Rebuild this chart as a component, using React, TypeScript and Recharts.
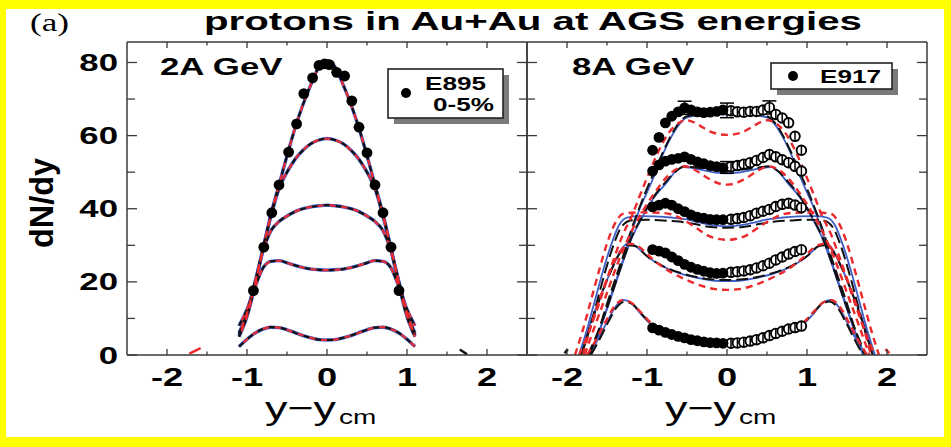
import React from "react";
import {
  ComposedChart,
  Line,
  Scatter,
  XAxis,
  YAxis,
  ReferenceLine,
  ErrorBar,
} from "recharts";

const SANS = "'Liberation Sans', Arial, Helvetica, sans-serif";
const SERIF = "'Liberation Serif', 'Times New Roman', serif";
const WIDE = 1.45; // labels are set wide, like the original figure
const FRAME = "#3a3a3a";
const BLUE = "#3f5fc8";
const RED = "#ea2a2c";
const BLACK = "#111";

const PLOT_W = 400;
const PLOT_H = 313;

// axes (rapidity, dN/dy)
const X_DOMAIN: [number, number] = [-2.5, 2.5];
const Y_DOMAIN: [number, number] = [0, 85.6];
const X_TICKS = [-2, -1.5, -1, -0.5, 0, 0.5, 1, 1.5, 2];
const Y_TICKS = [0, 10, 20, 30, 40, 50, 60, 70, 80];

// ---- 2A GeV ----
// model curves (blue / black / red coincide here), one per set
const GRID_2A = [-1.1, -1.0, -0.9, -0.8, -0.7, -0.6, -0.5, -0.4, -0.3, -0.2, -0.1, 0, 0.1, 0.2, 0.3, 0.4, 0.5, 0.6, 0.7, 0.8, 0.9, 1.0, 1.1];
const CURVE_2A_1 = [5, 10.5, 19, 29, 38.5, 46.5, 54.5, 62, 68.5, 74, 78.8, 80.5, 78.8, 74, 68.5, 62, 54.5, 46.5, 38.5, 29, 19, 10.5, 5];
const CURVE_2A_2 = [5.5, 11, 19.5, 29, 38, 45.5, 50, 53.5, 56, 57.8, 58.8, 59.2, 58.8, 57.8, 56, 53.5, 50, 45.5, 38, 29, 19.5, 11, 5.5];
const CURVE_2A_3 = [6, 11.5, 20, 28.5, 34, 36.5, 38, 39.2, 40, 40.5, 40.8, 41, 40.8, 40.5, 40, 39.2, 38, 36.5, 34, 28.5, 20, 11.5, 6];
const CURVE_2A_4 = [8, 12.5, 18.5, 23.8, 25.6, 25.8, 25.2, 24.5, 23.9, 23.5, 23.3, 23.2, 23.3, 23.5, 23.9, 24.5, 25.2, 25.8, 25.6, 23.8, 18.5, 12.5, 8];
const CURVE_2A_5 = [2.3, 4.3, 6, 7.1, 7.6, 7.5, 6.9, 6.1, 5.3, 4.7, 4.2, 4.1, 4.2, 4.7, 5.3, 6.1, 6.9, 7.5, 7.6, 7.1, 6, 4.3, 2.3];

// E895 0-5%
const E895_X = [-0.92, -0.79, -0.69, -0.6, -0.48, -0.38, -0.29, -0.18, -0.1, -0.03, 0.03, 0.12, 0.22, 0.31, 0.4, 0.5, 0.6, 0.7, 0.8, 0.9];
const E895_Y = [17.6, 29.5, 38.9, 46.5, 55.5, 63.2, 71.5, 75.8, 79.2, 79.6, 79.4, 77.3, 76.3, 69.5, 62.3, 55.3, 46.5, 38.9, 29.5, 17.6];

// short curve pieces near the floor
const TAIL_2A_RED = [[-1.72, 0.4], [-1.58, 1.9]];
const TAIL_2A_BLACK = [[1.66, 1.5], [1.75, 0.2]];

// ---- 8A GeV ----
// model curves as [y - ycm, dN/dy]
const A_BLUE = [[-1.7, 0], [-1.6, 6], [-1.5, 13], [-1.4, 19.5], [-1.3, 26], [-1.2, 33], [-1.1, 39.5], [-1.0, 44.5], [-0.9, 49.5], [-0.8, 55], [-0.7, 59.5], [-0.6, 63], [-0.5, 65], [-0.3, 65.6], [0, 65.8], [0.3, 65.6], [0.5, 65], [0.6, 63], [0.7, 59.5], [0.8, 55], [0.9, 49.5], [1.0, 44.5], [1.1, 39.5], [1.2, 33], [1.3, 26], [1.4, 19.5], [1.5, 13], [1.6, 6], [1.7, 0]];
const A_BLACK = [[-1.72, 0], [-1.6, 7], [-1.5, 14], [-1.4, 20.5], [-1.3, 27], [-1.2, 34], [-1.1, 40], [-1.0, 45.5], [-0.9, 50.5], [-0.8, 55.5], [-0.7, 60], [-0.6, 63.5], [-0.5, 65.3], [-0.3, 65.8], [0, 66], [0.3, 65.8], [0.5, 65.3], [0.6, 63.5], [0.7, 60], [0.8, 55.5], [0.9, 50.5], [1.0, 45.5], [1.1, 40], [1.2, 34], [1.3, 27], [1.4, 20.5], [1.5, 14], [1.6, 7], [1.72, 0]];
const A_RED = [[-1.85, 0], [-1.75, 5], [-1.6, 14], [-1.45, 24], [-1.3, 33], [-1.18, 38.5], [-1.1, 43], [-0.97, 50], [-0.85, 56], [-0.72, 61], [-0.6, 63.5], [-0.5, 64.2], [-0.4, 63.5], [-0.3, 62.2], [-0.2, 61], [-0.1, 60.4], [0, 60.2], [0.1, 60.4], [0.2, 61], [0.3, 62.2], [0.4, 63.5], [0.5, 64.2], [0.6, 63.5], [0.72, 61], [0.85, 56], [0.97, 50], [1.1, 43], [1.18, 38.5], [1.3, 33], [1.45, 24], [1.6, 14], [1.75, 5], [1.85, 0]];

const B_BLUE = [[-1.72, 0], [-1.6, 6.5], [-1.5, 12.5], [-1.4, 19], [-1.3, 25.5], [-1.2, 31.5], [-1.05, 38], [-0.93, 42.5], [-0.76, 47], [-0.65, 50], [-0.55, 51.4], [-0.4, 51], [-0.2, 50.1], [0, 49.7], [0.2, 50.1], [0.4, 51], [0.55, 51.4], [0.65, 50], [0.76, 47], [0.93, 42.5], [1.05, 38], [1.2, 31.5], [1.3, 25.5], [1.4, 19], [1.5, 12.5], [1.6, 6.5], [1.72, 0]];
const B_BLACK = [[-1.74, 0], [-1.6, 7], [-1.45, 16], [-1.3, 25.8], [-1.2, 31.8], [-1.05, 38.3], [-0.93, 42.8], [-0.76, 47.5], [-0.62, 50.6], [-0.52, 51.6], [-0.4, 51.3], [-0.2, 50.7], [0, 50.5], [0.2, 50.7], [0.4, 51.3], [0.52, 51.6], [0.62, 50.6], [0.76, 47.5], [0.93, 42.8], [1.05, 38.3], [1.2, 31.8], [1.3, 25.8], [1.45, 16], [1.6, 7], [1.74, 0]];
const B_RED = [[-1.78, 0], [-1.65, 8], [-1.5, 17], [-1.35, 26], [-1.2, 33.5], [-1.05, 39.5], [-0.9, 44.5], [-0.76, 48.5], [-0.62, 51], [-0.52, 51.6], [-0.4, 50.6], [-0.3, 49.2], [-0.2, 47.9], [-0.1, 46.9], [0, 46.6], [0.1, 46.9], [0.2, 47.9], [0.3, 49.2], [0.4, 50.6], [0.52, 51.6], [0.62, 51], [0.76, 48.5], [0.9, 44.5], [1.05, 39.5], [1.2, 33.5], [1.35, 26], [1.5, 17], [1.65, 8], [1.78, 0]];

const C_BLUE = [[-1.85, 0], [-1.75, 7], [-1.65, 15], [-1.55, 23], [-1.45, 30], [-1.35, 35.5], [-1.25, 37.6], [-1.1, 38], [-0.9, 37.9], [-0.7, 37.6], [-0.5, 37.1], [-0.35, 36.3], [-0.2, 35.6], [0, 35.2], [0.2, 35.6], [0.35, 36.3], [0.5, 37.1], [0.7, 37.6], [0.9, 37.9], [1.1, 38], [1.25, 37.6], [1.35, 35.5], [1.45, 30], [1.55, 23], [1.65, 15], [1.75, 7], [1.85, 0]];
const C_BLACK = [[-1.82, 0], [-1.72, 7], [-1.62, 15], [-1.52, 23], [-1.42, 30], [-1.32, 35], [-1.2, 36.8], [-1.0, 37], [-0.8, 36.8], [-0.6, 36.5], [-0.4, 35.8], [-0.2, 35], [0, 34.8], [0.2, 35], [0.4, 35.8], [0.6, 36.5], [0.8, 36.8], [1.0, 37], [1.2, 36.8], [1.32, 35], [1.42, 30], [1.52, 23], [1.62, 15], [1.72, 7], [1.82, 0]];
const C_RED = [[-1.9, 0], [-1.8, 7], [-1.7, 15], [-1.6, 23], [-1.5, 30.5], [-1.4, 36], [-1.3, 38.6], [-1.1, 39], [-0.85, 38.9], [-0.7, 38.5], [-0.55, 37], [-0.4, 35], [-0.25, 32.8], [-0.12, 31.8], [0, 31.5], [0.12, 31.8], [0.25, 32.8], [0.4, 35], [0.55, 37], [0.7, 38.5], [0.85, 38.9], [1.1, 39], [1.3, 38.6], [1.4, 36], [1.5, 30.5], [1.6, 23], [1.7, 15], [1.8, 7], [1.9, 0]];

const D_BLUE = [[-1.83, 0], [-1.72, 7.8], [-1.6, 15], [-1.5, 20.5], [-1.4, 25.5], [-1.3, 29.5], [-1.22, 30.6], [-1.1, 29], [-0.97, 26.5], [-0.8, 24.2], [-0.6, 22.4], [-0.45, 21.5], [-0.3, 20.8], [-0.15, 20.3], [0, 20.2], [0.15, 20.3], [0.3, 20.8], [0.45, 21.5], [0.6, 22.4], [0.8, 24.2], [0.97, 26.5], [1.1, 29], [1.22, 30.6], [1.3, 29.5], [1.4, 25.5], [1.5, 20.5], [1.6, 15], [1.72, 7.8], [1.83, 0]];
const D_BLACK = [[-1.82, 0], [-1.7, 8.5], [-1.58, 16], [-1.46, 22.5], [-1.35, 27.5], [-1.25, 30], [-1.15, 29.8], [-1.0, 27], [-0.8, 24.3], [-0.6, 22.6], [-0.4, 21.4], [-0.2, 20.7], [0, 20.5], [0.2, 20.7], [0.4, 21.4], [0.6, 22.6], [0.8, 24.3], [1.0, 27], [1.15, 29.8], [1.25, 30], [1.35, 27.5], [1.46, 22.5], [1.58, 16], [1.7, 8.5], [1.82, 0]];
const D_RED = [[-1.8, 0], [-1.7, 8], [-1.58, 16], [-1.45, 23.5], [-1.32, 28.8], [-1.2, 30.4], [-1.1, 29.6], [-0.95, 26.6], [-0.8, 24], [-0.6, 21.5], [-0.45, 20], [-0.3, 18.8], [-0.15, 18], [0, 17.8], [0.15, 18], [0.3, 18.8], [0.45, 20], [0.6, 21.5], [0.8, 24], [0.95, 26.6], [1.1, 29.6], [1.2, 30.4], [1.32, 28.8], [1.45, 23.5], [1.58, 16], [1.7, 8], [1.8, 0]];

const E_BLUE = [[-1.72, 0], [-1.62, 4], [-1.5, 9], [-1.4, 13], [-1.3, 15.1], [-1.2, 14.3], [-1.1, 11.8], [-0.97, 8.8], [-0.8, 6.7], [-0.6, 5.2], [-0.45, 4.4], [-0.3, 3.6], [-0.15, 3], [0, 2.8], [0.15, 3], [0.3, 3.6], [0.45, 4.4], [0.6, 5.2], [0.8, 6.7], [0.97, 8.8], [1.1, 11.8], [1.2, 14.3], [1.3, 15.1], [1.4, 13], [1.5, 9], [1.62, 4], [1.72, 0]];
const E_BLACK = [[-1.7, 0], [-1.6, 4], [-1.48, 9.2], [-1.38, 13], [-1.28, 14.6], [-1.18, 13.9], [-1.08, 11.5], [-0.95, 8.7], [-0.8, 6.8], [-0.6, 5.3], [-0.4, 4.2], [-0.2, 3.2], [0, 2.9], [0.2, 3.2], [0.4, 4.2], [0.6, 5.3], [0.8, 6.8], [0.95, 8.7], [1.08, 11.5], [1.18, 13.9], [1.28, 14.6], [1.38, 13], [1.48, 9.2], [1.6, 4], [1.7, 0]];
const E_RED = [[-1.75, 0], [-1.64, 4], [-1.52, 9], [-1.41, 13.2], [-1.31, 15], [-1.21, 14.5], [-1.1, 12.2], [-0.97, 9.2], [-0.8, 6.9], [-0.6, 5.3], [-0.45, 4.4], [-0.3, 3.6], [-0.15, 3], [0, 2.7], [0.15, 3], [0.3, 3.6], [0.45, 4.4], [0.6, 5.3], [0.8, 6.9], [0.97, 9.2], [1.1, 12.2], [1.21, 14.5], [1.31, 15], [1.41, 13.2], [1.52, 9], [1.64, 4], [1.75, 0]];

const TAIL_8A_LEFT = [[-2.03, 0.5], [-1.99, 1.6]];
const TAIL_8A_RIGHT = [[1.98, 1.6], [2.03, 0.5]];

// E917: measured (filled, y<0) and reflected (open, y>0)
const E917_FILLED_X = [-0.93, -0.85, -0.77, -0.69, -0.61, -0.53, -0.45, -0.37, -0.29, -0.21, -0.13, -0.05];
const E917_OPEN_X = [0.05, 0.13, 0.21, 0.29, 0.37, 0.45, 0.53, 0.61, 0.69, 0.77, 0.85, 0.93];
const E917_A_FILLED = [56, 59.5, 63.5, 65.3, 66.5, 67.6, 67, 66.5, 66.3, 66.4, 66.6, 67];
const E917_A_OPEN = [66.8, 66.5, 66.4, 66.6, 66.6, 67, 67.7, 65.8, 64.8, 63.5, 59.8, 56];
const E917_B_FILLED = [50.3, 52, 53, 53.5, 53.8, 54.2, 53.5, 52.8, 52.3, 51.8, 51.5, 51.2];
const E917_B_OPEN = [51.5, 51.8, 52.2, 52.6, 53.2, 54, 54.8, 54.2, 53.4, 52.6, 51.6, 50.3];
const E917_C_FILLED = [40.5, 41, 41.5, 41, 40, 39.2, 38.3, 37.7, 37.4, 37.1, 37, 37];
const E917_C_OPEN = [37.1, 37.3, 37.6, 38.1, 38.8, 39.3, 39.8, 40.6, 41.2, 41.5, 41, 40.3];
const E917_D_FILLED = [28.8, 28.4, 27.9, 26.8, 25.8, 24.8, 24, 23.4, 22.9, 22.5, 22.3, 22.4];
const E917_D_OPEN = [22.6, 22.8, 23, 23.3, 23.8, 24.4, 25.1, 26, 26.8, 27.6, 28.3, 28.8];
const E917_E_FILLED = [7.4, 6.8, 6.2, 5.6, 5.1, 4.7, 4.2, 3.9, 3.6, 3.4, 3.3, 3.2];
const E917_E_OPEN = [3.2, 3.3, 3.5, 3.8, 4.2, 4.7, 5.3, 5.9, 6.5, 7.1, 7.5, 7.9];

// points with visible error bars
const E917_ERR_X = [-0.53, 0.0, 0.53, 0.0];
const E917_ERR_Y = [67.6, 66.9, 67.7, 51.3];
const E917_ERR = [1.8, 2.0, 1.8, 1.6];

const pairs = (a: number[][]) => a.map(([x, y]) => ({ x, y }));
const zip = (xs: number[], ys: number[]) => xs.map((x, i) => ({ x, y: ys[i] }));

const CURVES_2A = [CURVE_2A_1, CURVE_2A_2, CURVE_2A_3, CURVE_2A_4, CURVE_2A_5].map((c) => zip(GRID_2A, c));
const E895 = zip(E895_X, E895_Y);

const MODEL_8A = [
  { blue: A_BLUE, black: A_BLACK, red: A_RED },
  { blue: B_BLUE, black: B_BLACK, red: B_RED },
  { blue: C_BLUE, black: C_BLACK, red: C_RED },
  { blue: D_BLUE, black: D_BLACK, red: D_RED },
  { blue: E_BLUE, black: E_BLACK, red: E_RED },
];
const FILLED_8A = [E917_A_FILLED, E917_B_FILLED, E917_C_FILLED, E917_D_FILLED, E917_E_FILLED].flatMap((ys) => zip(E917_FILLED_X, ys));
const OPEN_8A = [E917_A_OPEN, E917_B_OPEN, E917_C_OPEN, E917_D_OPEN, E917_E_OPEN].flatMap((ys) => zip(E917_OPEN_X, ys));
const ERR_8A = E917_ERR_X.map((x, i) => ({ x, y: E917_ERR_Y[i], err: E917_ERR[i] }));

// inward ticks on bottom and top, labels on integers
const xTick = (p: any) => {
  const { x, y, payload } = p;
  const major = Number.isInteger(payload.value);
  const len = major ? 6 : 3.5;
  return (
    <g>
      <line x1={x} x2={x} y1={y} y2={y - len} stroke={FRAME} strokeWidth={1.3} />
      <line x1={x} x2={x} y1={y - PLOT_H} y2={y - PLOT_H + len} stroke={FRAME} strokeWidth={1.3} />
      {major && (
        <text
          transform={`translate(${x} ${y + 31}) scale(${WIDE} 1)`}
          textAnchor="middle"
          fontFamily={SANS}
          fontWeight="bold"
          fontSize={25}
          fill="#000"
        >
          {payload.value}
        </text>
      )}
    </g>
  );
};

// inward ticks on left and right; labels only on the left panel
const yTick = (labels: boolean) => (p: any) => {
  const { x, y, payload } = p;
  const major = payload.value % 20 === 0;
  const len = major ? 10 : 8;
  return (
    <g>
      <line x1={x} x2={x + len} y1={y} y2={y} stroke={FRAME} strokeWidth={1.3} />
      <line x1={x + PLOT_W} x2={x + PLOT_W - len} y1={y} y2={y} stroke={FRAME} strokeWidth={1.3} />
      {labels && major && (
        <text
          transform={`translate(${x - 9} ${y + 8.5}) scale(${WIDE} 1)`}
          textAnchor="end"
          fontFamily={SANS}
          fontWeight="bold"
          fontSize={24}
          fill="#000"
        >
          {payload.value}
        </text>
      )}
    </g>
  );
};

const filledDot = (p: any) => <circle cx={p.cx} cy={p.cy} r={5.4} fill="#000" />;
const openDot = (p: any) => (
  <g>
    <circle cx={p.cx} cy={p.cy} r={4.8} fill="#fff" stroke="#000" strokeWidth={1.9} />
    <line x1={p.cx} x2={p.cx} y1={p.cy - 4.8} y2={p.cy + 4.8} stroke="#000" strokeWidth={1.5} />
  </g>
);

function Axes({ labels, yWidth }: { labels: boolean; yWidth: number }) {
  return [
    <XAxis
      key="x"
      dataKey="x"
      type="number"
      domain={X_DOMAIN}
      ticks={X_TICKS}
      interval={0}
      allowDataOverflow
      height={45}
      tickSize={0}
      tickMargin={0}
      tickLine={false}
      tick={xTick}
      axisLine={{ stroke: FRAME, strokeWidth: 1.5 }}
    />,
    <YAxis
      key="y"
      type="number"
      domain={Y_DOMAIN}
      ticks={Y_TICKS}
      interval={0}
      allowDataOverflow
      width={yWidth}
      tickSize={0}
      tickMargin={0}
      tickLine={false}
      tick={yTick(labels)}
      axisLine={{ stroke: FRAME, strokeWidth: 1.5 }}
    />,
    <ReferenceLine key="top" y={Y_DOMAIN[1]} stroke={FRAME} strokeWidth={1.5} />,
    <ReferenceLine key="right" x={X_DOMAIN[1]} stroke={FRAME} strokeWidth={1.5} />,
  ];
}

const lineProps = { dataKey: "y", dot: false, type: "monotone" as const, isAnimationActive: false };

function Panel2A() {
  return (
    <ComposedChart width={530} height={400} margin={{ top: 42, right: 3, bottom: 0, left: 0 }}>
      {Axes({ labels: true, yWidth: 127 })}
      {CURVES_2A.map((c, i) => (
        <Line key={`b${i}`} {...lineProps} data={c} stroke={BLUE} strokeWidth={3.4} />
      ))}
      {CURVES_2A.map((c, i) => (
        <Line key={`k${i}`} {...lineProps} data={c} stroke={BLACK} strokeWidth={2.2} strokeDasharray="6 6" />
      ))}
      {CURVES_2A.map((c, i) => (
        <Line key={`r${i}`} {...lineProps} data={c} stroke={RED} strokeWidth={2.2} strokeDasharray="6 6" strokeDashoffset={6} />
      ))}
      <Line {...lineProps} type="linear" data={pairs(TAIL_2A_RED)} stroke={RED} strokeWidth={2.5} />
      <Line {...lineProps} type="linear" data={pairs(TAIL_2A_BLACK)} stroke={BLACK} strokeWidth={2.5} />
      <Scatter data={E895} dataKey="y" isAnimationActive={false} shape={filledDot} />
    </ComposedChart>
  );
}

function Panel8A() {
  return (
    <ComposedChart width={430} height={400} margin={{ top: 42, right: 3, bottom: 0, left: 0 }}>
      {Axes({ labels: false, yWidth: 27 })}
      {MODEL_8A.map((m, i) => (
        <Line key={`b${i}`} {...lineProps} data={pairs(m.blue)} stroke={BLUE} strokeWidth={1.8} />
      ))}
      {MODEL_8A.map((m, i) => (
        <Line key={`k${i}`} {...lineProps} data={pairs(m.black)} stroke={BLACK} strokeWidth={2} strokeDasharray="12 5" />
      ))}
      {MODEL_8A.map((m, i) => (
        <Line key={`r${i}`} {...lineProps} data={pairs(m.red)} stroke={RED} strokeWidth={2.4} strokeDasharray="7 5" />
      ))}
      <Line {...lineProps} type="linear" data={pairs(TAIL_8A_LEFT)} stroke={BLACK} strokeWidth={2.5} />
      <Line {...lineProps} type="linear" data={pairs(TAIL_8A_RIGHT)} stroke={RED} strokeWidth={2.5} />
      <Scatter data={ERR_8A} dataKey="y" isAnimationActive={false} shape={() => <g />}>
        <ErrorBar dataKey="err" direction="y" width={7} stroke="#000" strokeWidth={1.5} />
      </Scatter>
      <Scatter data={OPEN_8A} dataKey="y" isAnimationActive={false} shape={openDot} />
      <Scatter data={FILLED_8A} dataKey="y" isAnimationActive={false} shape={filledDot} />
    </ComposedChart>
  );
}

const Wide = ({ x, y, size, weight = "normal", family = SANS, scale = WIDE, children }: any) => (
  <text
    transform={`translate(${x} ${y}) scale(${scale} 1)`}
    fontFamily={family}
    fontWeight={weight}
    fontSize={size}
    fill="#000"
  >
    {children}
  </text>
);

function Annotations() {
  return (
    <svg width={951} height={447} style={{ position: "absolute", left: 0, top: 0, pointerEvents: "none" }}>
      <Wide x={30} y={31} size={26} family={SERIF} scale={1.35}>(a)</Wide>
      <text
        x={204}
        y={30}
        fontFamily={SANS}
        fontWeight="bold"
        fontSize={25}
        textLength={658}
        lengthAdjust="spacingAndGlyphs"
        fill="#000"
      >
        protons in Au+Au at AGS energies
      </text>

      <text
        transform="translate(53 203) rotate(-90)"
        textAnchor="middle"
        fontFamily={SANS}
        fontWeight="bold"
        fontSize={33}
        textLength={90}
        lengthAdjust="spacingAndGlyphs"
        fill="#000"
      >
        dN/dy
      </text>

      <Wide x={265} y={419} size={32} scale={1.4}>y−y</Wide>
      <Wide x={339} y={424} size={20} scale={1.4}>cm</Wide>
      <Wide x={665} y={419} size={32} scale={1.4}>y−y</Wide>
      <Wide x={739} y={424} size={20} scale={1.4}>cm</Wide>

      <Wide x={160} y={75} size={24} weight="bold">2A GeV</Wide>
      <Wide x={572} y={75} size={24} weight="bold">8A GeV</Wide>

      {/* E895 legend */}
      <rect x={394} y={75} width={115} height={49} fill="#7a7a7a" />
      <rect x={388} y={69} width={115} height={49} fill="#fff" stroke="#222" strokeWidth={1.6} />
      <circle cx={406} cy={93} r={5} fill="#000" />
      <Wide x={425} y={90} size={18} weight="bold">E895</Wide>
      <Wide x={433} y={111} size={18} weight="bold">0-5%</Wide>

      {/* E917 legend */}
      <rect x={777} y={69} width={121} height={26} fill="#7a7a7a" />
      <rect x={771} y={63} width={121} height={26} fill="#fff" stroke="#222" strokeWidth={1.6} />
      <circle cx={793} cy={76} r={5} fill="#000" />
      <Wide x={820} y={83} size={18} weight="bold">E917</Wide>
    </svg>
  );
}

export default function App() {
  return (
    <div style={{ position: "absolute", left: 0, top: 0, width: 951, height: 447, background: "#ffff00" }}>
      <div style={{ position: "absolute", left: 6, top: 9, width: 938, height: 428, background: "#fff" }} />
      <div style={{ position: "absolute", left: 0, top: 0 }}>
        <Panel2A />
      </div>
      <div style={{ position: "absolute", left: 500, top: 0 }}>
        <Panel8A />
      </div>
      <Annotations />
    </div>
  );
}
